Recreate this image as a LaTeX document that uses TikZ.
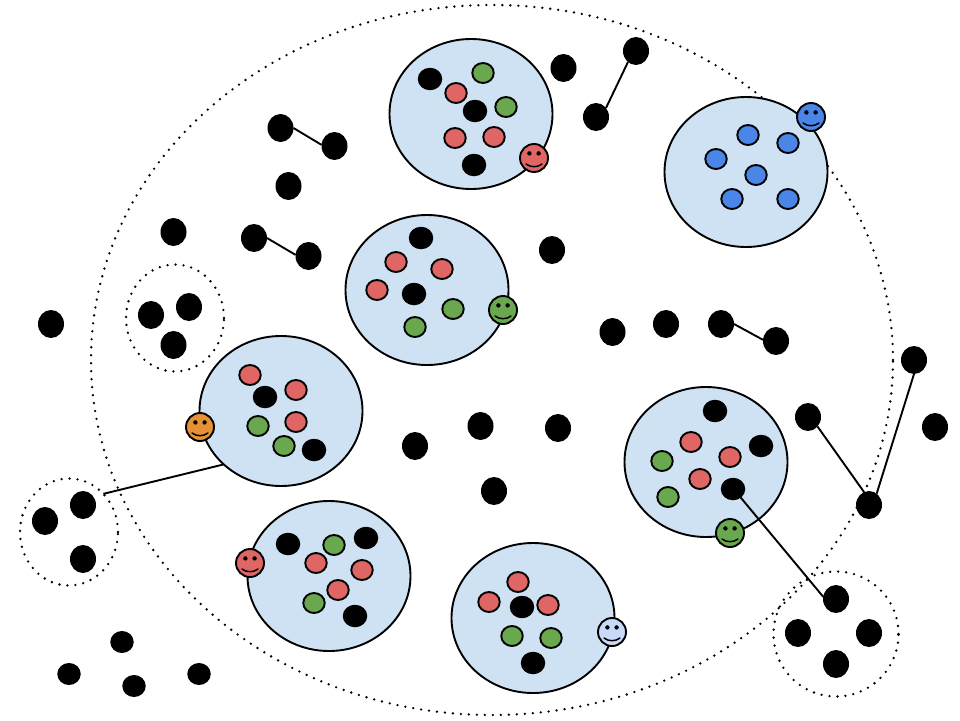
\documentclass[tikz,border=0pt]{standalone}
\usetikzlibrary{shapes.geometric}
\definecolor{cellblue}{HTML}{CFE2F3}
\definecolor{sred}{HTML}{E06666}
\definecolor{sgreen}{HTML}{6AA84F}
\definecolor{sblue}{HTML}{4A86E8}
\definecolor{sorange}{HTML}{E69138}
\definecolor{spale}{HTML}{C9DAF8}
\tikzset{
  x=1pt,y=-1pt,
  base/.style={ellipse,draw=black,line width=1.9pt,inner sep=0pt,outer sep=0pt},
  cell/.style={base,fill=cellblue,minimum width=163pt,minimum height=150pt},
  blob/.style={ellipse,fill=black,draw=none,inner sep=0pt,outer sep=0pt,minimum width=26pt,minimum height=28pt},
  sblob/.style={ellipse,fill=black,draw=none,inner sep=0pt,outer sep=0pt,minimum width=24.5pt,minimum height=22.5pt},
  seed/.style={base,minimum width=21.5pt,minimum height=20pt},
  dotted ring/.style={ellipse,draw=black,line width=2.6pt,line cap=round,dash pattern=on 0pt off 8pt,inner sep=0pt,outer sep=0pt},
  link/.style={draw=black,line width=1.9pt},
  face/.style={circle,draw=black,line width=1.9pt,inner sep=0pt,outer sep=0pt,minimum size=28pt},
}
\newcommand{\facenode}[4]{%
  \node[face,fill=#4] (#1) at (#2,#3) {};
  \fill[black] (#2-4.6,#3-4.6) circle[radius=2.2pt];
  \fill[black] (#2+4.6,#3-4.6) circle[radius=2.2pt];
  \draw[line width=1.5pt,black,line cap=round] (#2-8,#3+6) .. controls (#2-3.5,#3+9.6) and (#2+3.5,#3+9.6) .. (#2+8,#3+6);
}
\begin{document}
\begin{tikzpicture}
\useasboundingbox (0,0) rectangle (960,720);
% dotted boundaries
\node[dotted ring,minimum width=802pt,minimum height=710pt] (world) at (492,360) {};
\node[dotted ring,minimum width=98pt,minimum height=107pt] (ringA) at (175,318) {};
\node[dotted ring,minimum width=98pt,minimum height=107pt] (ringB) at (69,532) {};
\node[dotted ring,minimum width=125pt,minimum height=125pt] (ringC) at (836,634) {};
% clusters
\foreach \n/\x/\y in {cA/471/114,cB/746/172,cC/427/290,cD/281/411,cE/706/462,cF/329/576,cG/533/618}
  \node[cell] (\n) at (\x,\y) {};
% red seeds
\foreach \n/\x/\y in {a3/456/93,a6/455/138,a7/494/137,c2/396/262,c3/442/269,c4/377/290,d1/250/375,d2/296/390,d4/296/422,e2/691/442,e4/730/457,e6/700/479,f4/316/563,f5/362/570,f6/338/590,g1/518/582,g2/489/602,g4/548/605}
  \node[seed,fill=sred] (\n) at (\x,\y) {};
% green seeds
\foreach \n/\x/\y in {a2/483/73,a5/506/107,c6/453/309,c7/415/327,d5/258/426,d6/284/446,e5/662/461,e8/668/497,f2/334/545,f7/314/603,g5/512/636,g6/551/638}
  \node[seed,fill=sgreen] (\n) at (\x,\y) {};
% blue seeds
\foreach \n/\x/\y in {b1/748/135,b2/788/143,b3/716/159,b4/756/175,b5/732/199,b6/788/199}
  \node[seed,fill=sblue] (\n) at (\x,\y) {};
% black seeds in clusters
\foreach \n/\x/\y in {a1/430/79,a4/475/111,a8/474/165,c1/421/238,c5/414/294,d3/265/397,d7/314/450,e1/715/411,e3/761/446,e7/733/489,f1/288/544,f3/366/538,f8/355/616,g3/522/607,g7/533/663}
  \node[sblob] (\n) at (\x,\y) {};
% free blobs
\foreach \n/\x/\y in {p1/280.5/128,p2/334.5/146,p3/288.5/186,p4/173.5/232,p5/254/238,p6/308.5/256,p7/563.5/68,p8/636/51,p9/596/117,p10/552/250,p11/612.5/332,p12/666/324,p13/721/324,p14/776/341,p15/415/446,p16/480.5/426,p17/558/428,p18/494/491,p19/808/417,p20/869/505,p21/914/360,p22/935/427,p23/51/324,
  ra1/151/315,ra2/189/307,ra3/173.5/345,rb1/45/521,rb2/83/505,rb3/83/559,rc1/836/599,rc2/798/633,rc3/869/633,rc4/836/664}
  \node[blob] (\n) at (\x,\y) {};
% outside small blobs
\foreach \n/\x/\y in {q1/122/642,q2/69/674,q3/134/686,q4/199/674}
  \node[sblob,minimum width=23.5pt,minimum height=22pt] (\n) at (\x,\y) {};
% connectors
\draw[link] (p1.0) -- (p2.175);
\draw[link] (p5.0) -- (p6.175);
\draw[link] (p8.234) -- (p9.42);
\draw[link] (p13.0) -- (p14.175);
\draw[link] (p19.-45) -- (p20.111);
\draw[link] (p21.270) -- (p20.56);
\draw[link] (e7.-48) -- (rc1.170);
\draw[link] (ringB.48) -- (cD.223);
% faces
\facenode{fA}{534}{158}{sred}
\facenode{fB}{811}{117}{sblue}
\facenode{fC}{503}{310}{sgreen}
\facenode{fD}{200}{427}{sorange}
\facenode{fE}{730}{533}{sgreen}
\facenode{fF}{250}{563}{sred}
\facenode{fG}{612}{632}{spale}
\end{tikzpicture}
\end{document}
